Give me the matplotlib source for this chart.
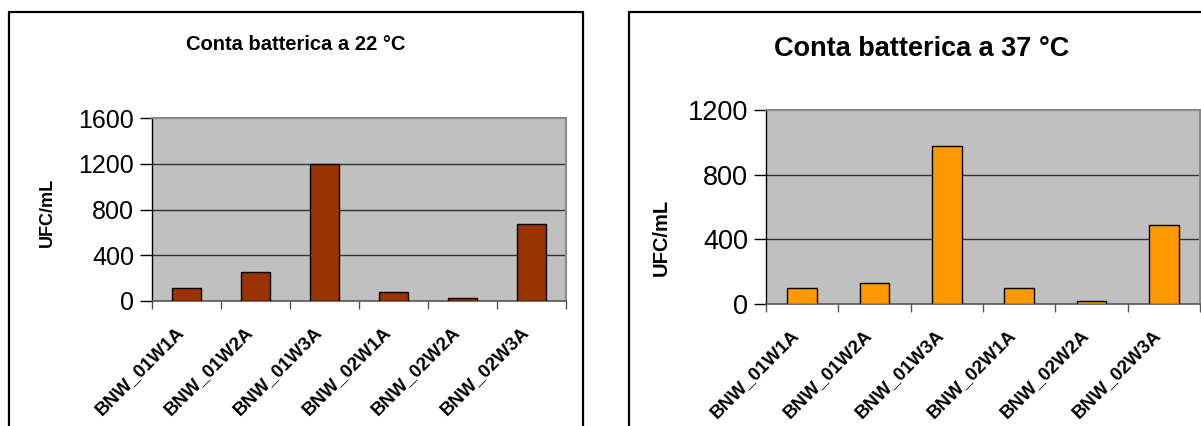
import matplotlib
matplotlib.use("Agg")
import matplotlib.pyplot as plt
from matplotlib.patches import Rectangle
import numpy as np

plt.rcParams['font.family'] = ['Liberation Sans', 'DejaVu Sans']

samples = ["BNW_01W1A", "BNW_01W2A", "BNW_01W3A", "BNW_02W1A", "BNW_02W2A", "BNW_02W3A"]
counts_22 = [110, 250, 1200, 75, 25, 675]
counts_37 = [100, 130, 980, 100, 15, 490]
title_22 = "Conta batterica a 22 °C"
title_37 = "Conta batterica a 37 °C"
ylabel = "UFC/mL"
yticks_22 = [0, 400, 800, 1200, 1600]
yticks_37 = [0, 400, 800, 1200]

W, H = 1201, 426
fig = plt.figure(figsize=(W / 100, H / 100), dpi=100)
fig.patch.set_facecolor("white")


def px_axes(x0, y0, x1, y1):
    return fig.add_axes([x0 / W, 1 - y1 / H, (x1 - x0) / W, (y1 - y0) / H])


def frame(x0, y0, x1, y1):
    fig.patches.append(Rectangle((x0 / W, 1 - y1 / H), (x1 - x0) / W, (y1 - y0) / H,
                                 transform=fig.transFigure, fill=False,
                                 edgecolor="black", linewidth=1.6, clip_on=False))


def draw(ax, values, color, yticks, tick_fs, xlab_fs, ylab_fs, ylab_xy):
    n = len(values)
    x = np.arange(n)
    ax.set_facecolor("#C0C0C0")
    ax.bar(x, values, width=0.41, color=color, edgecolor="black", linewidth=1.0, zorder=3)
    ax.set_xlim(-0.5, n - 0.5)
    ax.set_ylim(yticks[0], yticks[-1])
    ax.set_yticks(yticks)
    ax.set_yticklabels([str(v) for v in yticks], fontsize=tick_fs)
    for v in yticks[1:-1]:
        ax.axhline(v, color="#333333", linewidth=1.0, zorder=1)
    # rotated category labels end slightly left of each bar centre
    ax.set_xticks(x - 0.16)
    ax.set_xticklabels(samples, rotation=45, ha="right", rotation_mode="anchor",
                       fontsize=xlab_fs, fontweight="bold")
    ax.set_xticks(np.arange(n + 1) - 0.5, minor=True)
    ax.tick_params(axis="x", which="major", length=0, pad=16)
    ax.tick_params(axis="x", which="minor", length=6, width=1.0, color="#555555", direction="out")
    ax.tick_params(axis="y", length=9, width=1.0, direction="out", pad=4)
    ax.set_ylabel(ylabel, fontsize=ylab_fs, fontweight="bold")
    ax.yaxis.set_label_coords(ylab_xy[0] / W, 1 - ylab_xy[1] / H, transform=fig.transFigure)
    ax.yaxis.label.set_va("center")
    ax.spines["left"].set_color("black")
    ax.spines["left"].set_linewidth(1.0)
    ax.spines["bottom"].set_color("#555555")
    ax.spines["bottom"].set_linewidth(1.2)
    for s in ("top", "right"):
        ax.spines[s].set_color("#8A8A8A")
        ax.spines[s].set_linewidth(1.5)


frame(8.5, 12, 583, 440)
frame(629, 12, 1215, 440)

ax1 = px_axes(152, 118.3, 566, 301)
draw(ax1, counts_22, "#993300", yticks_22, 18, 13.5, 13, (47, 212))
fig.text(296 / W, 1 - 45 / H, title_22, ha="center", va="center", fontsize=14.5, fontweight="bold")

ax2 = px_axes(766, 110, 1200, 303.7)
draw(ax2, counts_37, "#FF9900", yticks_37, 19.5, 13.5, 14.5, (661, 237))
fig.text(922 / W, 1 - 49 / H, title_37, ha="center", va="center", fontsize=19.5, fontweight="bold")

fig.savefig("out.png", dpi=100)
